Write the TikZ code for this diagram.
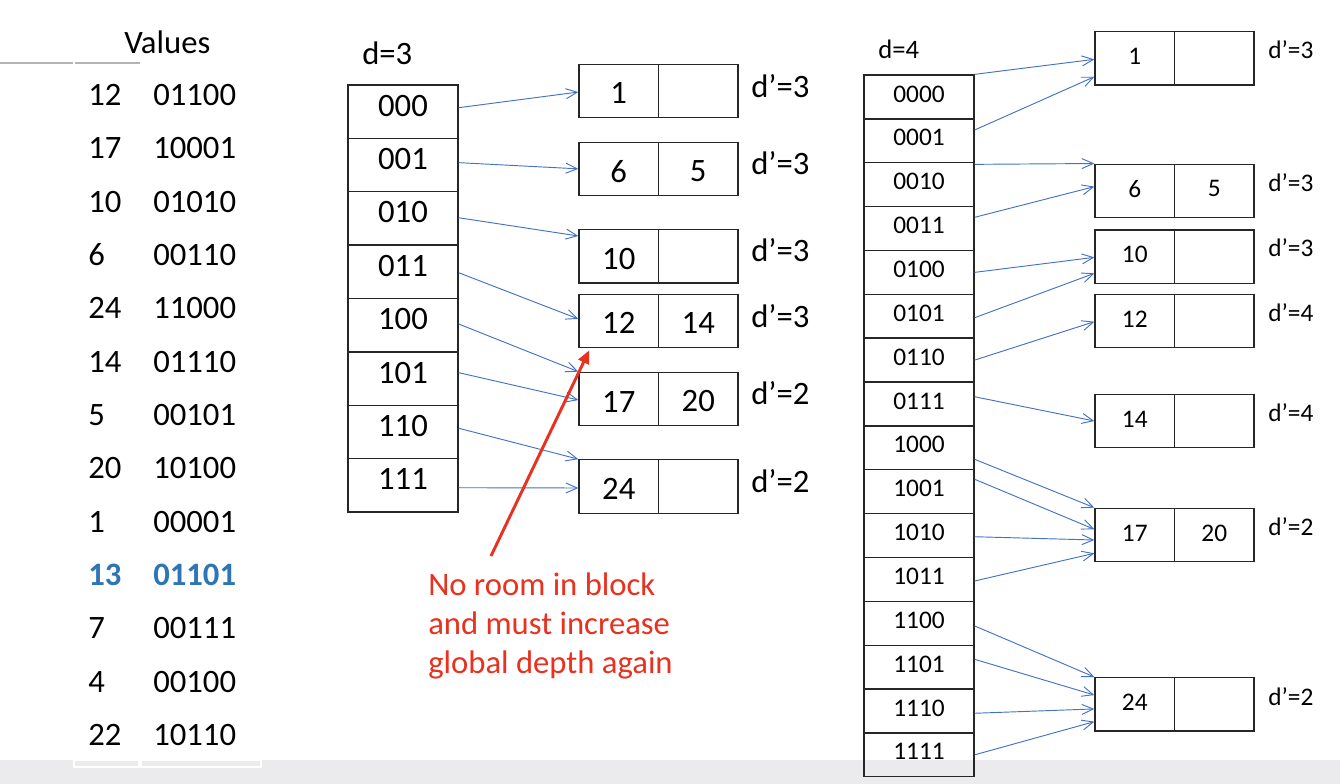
\documentclass[tikz,border=0pt]{standalone}
\usepackage{fontspec}
\setmainfont{Carlito}
\usetikzlibrary{arrows.meta,calc}
\definecolor{arrowblue}{HTML}{4472C4}
\definecolor{hlblue}{HTML}{2E75B6}
\definecolor{notered}{HTML}{E8311F}
\definecolor{barbg}{HTML}{EBEBED}
\definecolor{rulegray}{HTML}{B4B4B4}
\definecolor{boxline}{HTML}{262626}
\begin{document}
\begin{tikzpicture}[x=0.75pt,y=-0.75pt,
  big/.style={font=\fontsize{24.5}{29}\selectfont, inner sep=0pt},
  small/.style={font=\fontsize{19}{23}\selectfont, inner sep=0pt},
  tnorm/.style={},
  thl/.style={text=hlblue, font=\fontsize{24.5}{29}\selectfont\bfseries},
  mcell/.style={draw=boxline, line width=1pt, minimum width=82.5pt, minimum height=40.03pt, inner sep=0pt},
  rcell/.style={draw=boxline, line width=1pt, minimum width=82.5pt, minimum height=32.9pt, inner sep=0pt},
  bcell/.style={draw=boxline, line width=1pt, minimum width=59.6pt, minimum height=40pt, inner sep=0pt},
  link/.style={draw=arrowblue, line width=0.7pt, -{Straight Barb[length=8.5pt,width=7.5pt]}},
  notearrow/.style={draw=notered, line width=2.2pt, -{Triangle[length=10pt,width=8.5pt]}},
  note/.style={text=notered, font=\fontsize{24.5}{29.25}\selectfont, inner sep=0pt, align=left}]
\useasboundingbox (0,0) rectangle (1340,784);
\fill[white] (0,0) rectangle (1340,784);
\fill[barbg] (0,760) rectangle (1340,784);

% ---- left table ----
\draw[rulegray, line width=1.5pt] (0,63.5) -- (73,63.5);
\draw[rulegray, line width=1.5pt] (75,63.5) -- (140,63.5);
\draw[white, line width=0.8pt] (74,760) rectangle (139,767);
\draw[white, line width=0.8pt] (141,760) rectangle (261,767);
\node[big, anchor=west] (vals) at (124,42) {Values};
\foreach \k/\v/\s [count=\i from 0] in {12/01100/tnorm, 17/10001/tnorm, 10/01010/tnorm, 6/00110/tnorm, 24/11000/tnorm, 14/01110/tnorm, 5/00101/tnorm, 20/10100/tnorm, 1/00001/tnorm, 13/01101/thl, 7/00111/tnorm, 4/00100/tnorm, 22/10110/tnorm} {
  \node[big, \s, anchor=west] (k\i) at (88, {95+53.33*\i}) {\k};
  \node[big, \s, anchor=west] (v\i) at (153, {95+53.33*\i}) {\v};
}

% ---- middle directory (d=3) ----
\node[big, anchor=west] (d3) at (362,53) {d=3};
\foreach \t [count=\i from 0] in {000,001,010,011,100,101,110,111} {
  \node[mcell] (m\i) at (403, {111.69+53.375*\i}) {};
  \node[big] (mt\i) at ($(m\i)+(0,-6)$) {\t};
}
% middle buckets
\foreach \a/\b/\y/\dd/\ly [count=\i] in {1/{}/90.85/3/86, 6/5/168.85/3/163, 10/{}/256.5/3/250, 12/14/320.85/3/316, 17/20/399/2/393, 24/{}/486.5/2/481} {
  \node[bcell] (mb\i) at (618.75,\y) {};
  \node[bcell] (mb\i r) at (698.25,\y) {};
  \node[big] (mba\i) at ($(mb\i)+(0,2.5)$) {\a};
  \node[big] (mbb\i) at ($(mb\i r)+(0,2.5)$) {\b};
  \node[big, anchor=west] (mbd\i) at (751,\ly) {d’=\dd};
}
\draw[link] ($(m0.east)+(0,-4)$) -- ($(mb1.west)+(0,1.2)$);
\draw[link] ($(m1.east)+(0,-2.4)$) -- ($(mb2.west)+(0,0)$);
\draw[link] ($(m2.east)+(0,-0.7)$) -- ($(mb3.west)+(0,-20.5)$);
\draw[link] ($(m3.east)+(0,0.9)$) -- ($(mb4.west)+(0,-1.9)$);
\draw[link] ($(m4.east)+(0,-1.2)$) -- (mb5.north west);
\draw[link] ($(m5.east)+(0,-5.9)$) -- ($(mb5.west)+(0,1)$);
\draw[link] ($(m6.east)+(0,-3.7)$) -- (mb6.north west);
\draw[link] ($(m7.east)+(0,2.4)$) -- ($(mb6.west)+(0,1.5)$);

% note
\node[note, anchor=north west] (nt) at (428,573) {No room in block\\and must increase\\global depth again};
\coordinate (rs) at (491,556);
\draw[notearrow] (rs) -- ($(mb4.south west)+(11,2)$);

% ---- right directory (d=4) ----
\node[small, font=\fontsize{20}{24}\selectfont, anchor=west] (d4) at (878,49) {d=4};
\foreach \t [count=\i from 0] in {0000,0001,0010,0011,0100,0101,0110,0111,1000,1001,1010,1011,1100,1101,1110,1111} {
  \node[rcell] (r\i) at (919, {96.93+43.86*\i}) {};
  \node[small] (rt\i) at ($(r\i)+(0,-3)$) {\t};
}
\foreach \a/\b/\y/\dd/\ly [count=\i] in {1/{}/58.35/3/50, 6/5/190.85/3/183, 10/{}/256.65/3/248, 12/{}/321/4/313, 14/{}/421/4/413, 17/20/535/2/527, 24/{}/704.35/2/697} {
  \node[bcell] (rb\i) at (1134.75,\y) {};
  \node[bcell] (rb\i r) at (1214.25,\y) {};
  \node[small] (rba\i) at ($(rb\i)+(0,-2)$) {\a};
  \node[small] (rbb\i) at ($(rb\i r)+(0,-2)$) {\b};
  \node[small, anchor=west] (rbd\i) at (1268,\ly) {d’=\dd};
}
\draw[link] (r0.north east) -- ($(rb1.west)+(0,1)$);
\draw[link] ($(r1.east)+(0,-10.8)$) -- ($(rb1.west)+(0,18.4)$);
\draw[link] ($(r2.east)+(0,-20.3)$) -- (rb2.north west);
\draw[link] ($(r3.east)+(0,-11.2)$) -- ($(rb2.west)+(0,-4.2)$);
\draw[link] ($(r4.east)+(0,0)$) -- ($(rb3.west)+(0,0.7)$);
\draw[link] ($(r5.east)+(0,1.5)$) -- ($(rb3.west)+(0,16.7)$);
\draw[link] ($(r6.east)+(0,0)$) -- ($(rb4.west)+(0,0.7)$);
\draw[link] ($(r7.east)+(0,-7.2)$) -- ($(rb5.west)+(0,0)$);
\draw[link] ($(r8.east)+(0,11.5)$) -- (rb6.north west);
\draw[link] ($(r9.east)+(0,-12.4)$) -- ($(rb6.west)+(0,-5.7)$);
\draw[link] ($(r10.east)+(0,1.2)$) -- ($(rb6.west)+(0,5)$);
\draw[link] ($(r11.east)+(0,1.6)$) -- ($(rb6.west)+(0,18.3)$);
\draw[link] ($(r12.east)+(0,2.7)$) -- (rb7.north west);
\draw[link] ($(r13.east)+(0,-7.8)$) -- ($(rb7.west)+(0,-9.3)$);
\draw[link] ($(r14.east)+(0,2.3)$) -- ($(rb7.west)+(0,4.6)$);
\draw[link] ($(r15.east)+(0,0)$) -- ($(rb7.west)+(0,17.3)$);
\end{tikzpicture}
\end{document}
